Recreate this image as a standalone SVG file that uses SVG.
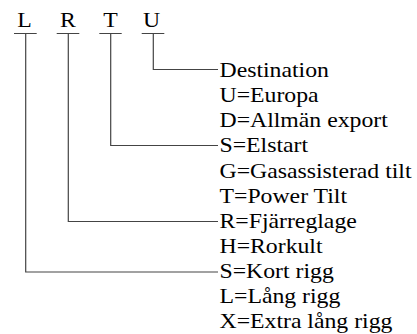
<svg xmlns="http://www.w3.org/2000/svg" width="417" height="334" viewBox="0 0 417 334">
<style>
.ln{fill:none;stroke:#444;stroke-width:1.2}
</style>
<rect width="417" height="334" fill="#fff"/>
<g id="codes" font-family="'Liberation Serif', serif" font-size="22" fill="#000" text-anchor="middle">
<g id="code-L" transform="translate(24.5,26.7) scale(1.08,1)"><text x="0" y="0">L</text></g>
<g id="code-R" transform="translate(68,26.7) scale(1.08,1)"><text x="0" y="0">R</text></g>
<g id="code-T" transform="translate(110.5,26.7) scale(1.08,1)"><text x="0" y="0">T</text></g>
<g id="code-U" transform="translate(151.5,26.7) scale(1.08,1)"><text x="0" y="0">U</text></g>
</g>
<g id="connectors" class="ln">
<path d="M14 33.5H36.7M25.7 33.5V272H218"/>
<path d="M56.7 33.5H79.3M68.3 33.5V221.5H218"/>
<path d="M99.3 33.5H121.7M110.7 33.5V145.5H218"/>
<path d="M141.7 33.5H164.3M153.3 33.5V69.5H218"/>
</g>
<g id="labels" font-family="'Liberation Serif', serif" font-size="22" fill="#000" transform="translate(219.5,0) scale(1.08,1)">
<g id="label-U"><text x="0" y="77">Destination</text>
<text x="0" y="102.15">U=Europa</text>
<text x="0" y="127.3">D=Allmän export</text></g>
<g id="label-T"><text x="0" y="152.45">S=Elstart</text>
<text x="0" y="177.6">G=Gasassisterad tilt</text>
<text x="0" y="202.75">T=Power Tilt</text></g>
<g id="label-R"><text x="0" y="227.9">R=Fjärreglage</text>
<text x="0" y="253.05">H=Rorkult</text></g>
<g id="label-L"><text x="0" y="278.2">S=Kort rigg</text>
<text x="0" y="303.35">L=Lång rigg</text>
<text x="0" y="328.5">X=Extra lång rigg</text></g>
</g>
</svg>
